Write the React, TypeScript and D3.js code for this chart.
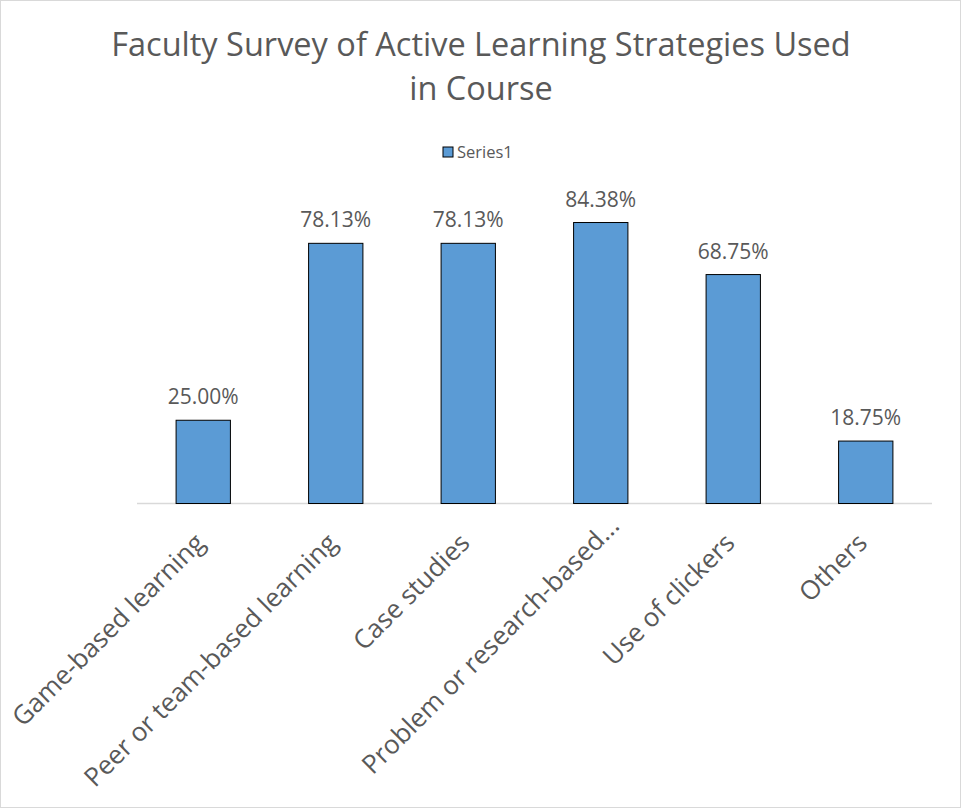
import React, { useEffect, useRef } from "react";
import * as d3 from "d3";

const categories = [
  "Game-based learning",
  "Peer or team-based learning",
  "Case studies",
  "Problem or research-based...",
  "Use of clickers",
  "Others",
];
const values = [25.0, 78.13, 78.13, 84.38, 68.75, 18.75];
const seriesName = "Series1";
const titleLines = ["Faculty Survey of Active Learning Strategies Used", "in Course"];

const App = () => {
  const svgRef = useRef<SVGSVGElement>(null);

  useEffect(() => {
    const width = 961;
    const height = 809;
    const font = "'Open Sans', sans-serif";
    const textColor = "#595959";

    const svg = d3.select(svgRef.current);
    svg.selectAll("*").remove();
    svg.attr("width", width).attr("height", height);

    svg
      .append("rect")
      .attr("x", 0.5)
      .attr("y", 0.5)
      .attr("width", width - 1)
      .attr("height", height - 2)
      .attr("fill", "#fff")
      .attr("stroke", "#d9d9d9");

    // title
    svg
      .append("g")
      .selectAll("text")
      .data(titleLines)
      .enter()
      .append("text")
      .attr("x", 481)
      .attr("y", (d, i) => 56 + i * 44)
      .attr("text-anchor", "middle")
      .attr("font-family", font)
      .attr("font-size", 32.5)
      .attr("fill", textColor)
      .text((d) => d);

    // legend
    const legend = svg.append("g").attr("transform", "translate(443,147)");
    legend
      .append("rect")
      .attr("width", 10)
      .attr("height", 10)
      .attr("fill", "#5b9bd5")
      .attr("stroke", "#000");
    legend
      .append("text")
      .attr("x", 14)
      .attr("y", 5)
      .attr("dy", "0.35em")
      .attr("font-family", font)
      .attr("font-size", 16.5)
      .attr("fill", textColor)
      .text(seriesName);

    const x = d3.scaleBand().domain(categories).range([137, 932]).paddingInner(0.59).paddingOuter(0.295);
    const y = d3.scaleLinear().domain([0, 100]).range([503.5, 170.5]);

    svg
      .append("line")
      .attr("x1", 137)
      .attr("x2", 932)
      .attr("y1", y(0))
      .attr("y2", y(0))
      .attr("stroke", "#d9d9d9")
      .attr("stroke-width", 1.5);

    const bars = svg.append("g");
    bars
      .selectAll("rect")
      .data(values)
      .enter()
      .append("rect")
      .attr("x", (d, i) => x(categories[i])!)
      .attr("y", (d) => y(d))
      .attr("width", x.bandwidth())
      .attr("height", (d) => y(0) - y(d))
      .attr("fill", "#5b9bd5")
      .attr("stroke", "#000")
      .attr("stroke-width", 1);

    // data labels
    svg
      .append("g")
      .selectAll("text")
      .data(values)
      .enter()
      .append("text")
      .attr("x", (d, i) => x(categories[i])! + x.bandwidth() / 2)
      .attr("y", (d) => y(d) - 16)
      .attr("text-anchor", "middle")
      .attr("font-family", font)
      .attr("font-size", 21)
      .attr("fill", textColor)
      .text((d) => d.toFixed(2) + "%");

    // category labels (truncated ones sit a bit further out, like Excel)
    svg
      .append("g")
      .selectAll("text")
      .data(categories)
      .enter()
      .append("text")
      .attr("transform", (d) => `translate(${x(d)! + x.bandwidth() / 2 + 3},${y(0) + 41}) rotate(-45)`)
      .attr("dx", (d) => (d.endsWith("...") ? 24 : 0))
      .attr("text-anchor", "end")
      .attr("font-family", font)
      .attr("font-size", 26)
      .attr("fill", textColor)
      .text((d) => d);
  }, []);

  return (
    <div style={{ position: "absolute", left: 0, top: 0 }}>
      <svg ref={svgRef} style={{ display: "block" }}></svg>
    </div>
  );
};

export default App;
